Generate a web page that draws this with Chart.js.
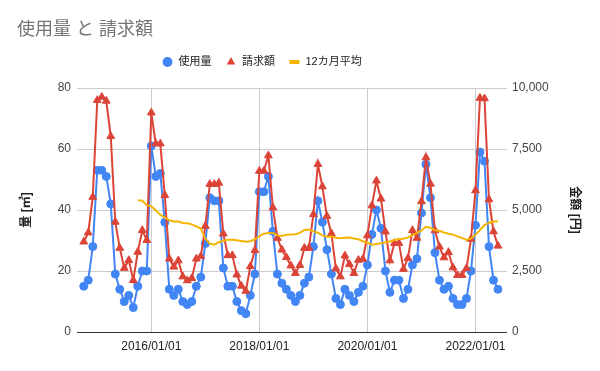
<!DOCTYPE html>
<html>
<head>
<meta charset="utf-8">
<script src="https://cdn.jsdelivr.net/npm/chart.js@4.4.0/dist/chart.umd.min.js"></script>
<style>
  html, body { margin: 0; padding: 0; background: #fff; }
</style>
</head>
<body>
<canvas id="chart" width="600" height="371"></canvas>
<script>
// monthly data, index 0 = 2014/10
const usage = [15, 17, 28, 53, 53, 51, 42, 19, 14, 10, 12, 8, 15, 20, 20, 61, 51, 52, 36, 14,
  12, 14, 10, 9, 10, 15, 18, 29, 44, 43, 43, 21, 15, 15, 10, 7, 6, 12, 19, 46,
  46, 51, 33, 19, 16, 14, 12, 10, 12, 16, 18, 28, 43, 36, 27, 19, 11, 9, 14, 12,
  10, 13, 15, 22, 32, 40, 34, 20, 13, 17, 17, 11, 14, 22, 24, 39, 55, 44, 26, 17,
  14, 15, 11, 9, 9, 11, 20, 35, 59, 56, 28, 17, 14];

const billing = [3700, 4070, 5530, 9500, 9630, 9470, 8020, 4510, 3440, 2620, 2940, 2120, 3280, 4170, 3760, 8990, 7720, 7720, 5600, 3000,
  2670, 2930, 2270, 2110, 2200, 3000, 3100, 4340, 6060, 6060, 6110, 4030, 3140, 3140, 2350, 1890, 1680, 2690, 3350, 6600,
  6600, 7230, 5100, 3850, 3370, 3060, 2720, 2410, 2740, 3440, 3440, 4820, 6880, 5960, 4750, 4040, 2600, 2270, 3130, 2780,
  2410, 2950, 2990, 3950, 5180, 6200, 5460, 4110, 2930, 3640, 3640, 2580, 3020, 4170, 3850, 5350, 7150, 6070, 4160, 3490,
  3050, 3270, 2640, 2330, 2330, 2610, 3810, 5800, 9590, 9570, 5430, 4120, 3530];

// 12カ月平均, starts at index 12
const avgStart = 12;
const avg12 = [5400, 5380, 5200, 5150, 4990, 4810, 4690, 4580, 4530, 4530, 4470, 4460, 4410, 4330, 4240, 3830, 3620, 3580, 3680, 3740,
  3780, 3780, 3760, 3730, 3700, 3720, 3800, 3930, 4030, 4060, 4060, 3960, 3940, 3990, 4000, 4010, 4060, 4180, 4200, 4120,
  4070, 3960, 3900, 3910, 3860, 3840, 3860, 3870, 3830, 3800, 3720, 3660, 3580, 3610, 3640, 3680, 3710, 3770, 3810, 3820,
  3880, 3970, 4060, 4160, 4310, 4270, 4170, 4150, 4080, 4030, 3990, 3920, 3860, 3770, 3830, 3980, 4180, 4380, 4470, 4530,
  4540];

const tickMonths = [15, 39, 63, 87];
const tickLabels = ['2016/01/01', '2018/01/01', '2020/01/01', '2022/01/01'];

const FONT = "'Liberation Sans', Arial, 'Noto Sans CJK JP', sans-serif";
Chart.defaults.font.family = FONT;

// legend spacing / placement like the original
const legendTweak = {
  id: 'legendTweak',
  beforeLayout(chart) {
    const lg = chart.legend;
    if (lg && !lg._patched) {
      const fit = lg.fit;
      lg.fit = function () {
        fit.call(this);
        this.height += 10.5;
      };
      lg._patched = true;
    }
  },
  afterLayout(chart) {
    chart.legend.left = 148;
  }
};

const chart = new Chart(document.getElementById('chart'), {
  type: 'line',
  data: {
    datasets: [{
      label: '使用量',
      data: usage.map((v, i) => ({ x: i, y: v })),
      borderColor: '#4285f4',
      backgroundColor: '#4285f4',
      borderWidth: 2,
      pointStyle: 'circle',
      pointRadius: 4,
      pointBorderWidth: 1,
      yAxisID: 'y',
      order: 3
    }, {
      label: '請求額',
      data: billing.map((v, i) => ({ x: i, y: v })),
      borderColor: '#db4437',
      backgroundColor: '#db4437',
      borderWidth: 2,
      pointStyle: 'triangle',
      pointRadius: 4.5,
      pointBorderWidth: 1,
      yAxisID: 'y1',
      order: 2
    }, {
      label: '12カ月平均',
      data: avg12.map((v, i) => ({ x: i + avgStart, y: v })),
      borderColor: '#f4b400',
      backgroundColor: '#f4b400',
      borderWidth: 2,
      pointStyle: 'line',
      pointRadius: 0,
      yAxisID: 'y1',
      order: 1
    }]
  },
  options: {
    responsive: false,
    animation: false,
    layout: { padding: { left: 17, right: 16, top: 0, bottom: 0 } },
    plugins: {
      title: {
        display: true,
        text: '使用量 と 請求額',
        align: 'start',
        color: '#757575',
        font: { size: 18, weight: 'normal' },
        padding: { top: 19.7, bottom: 1.2 }
      },
      legend: {
        align: 'start',
        labels: {
          usePointStyle: true,
          boxWidth: 14,
          boxHeight: 7,
          padding: 14,
          color: '#222',
          font: { size: 11 },
          generateLabels(chart) {
            const items = Chart.defaults.plugins.legend.labels.generateLabels(chart);
            items.sort((a, b) => a.datasetIndex - b.datasetIndex);
            items.forEach(it => { it.lineWidth = it.pointStyle === 'line' ? 4 : 0; });
            return items;
          }
        }
      },
      tooltip: { enabled: false }
    },
    scales: {
      x: {
        type: 'linear',
        min: -1.5,
        max: 94,
        afterBuildTicks: s => { s.ticks = tickMonths.map(v => ({ value: v })); },
        afterFit: s => { s.height = 39; },
        ticks: {
          callback: (v, i) => tickLabels[i],
          color: '#222',
          font: { size: 12 },
          padding: 7,
          maxRotation: 0,
          autoSkip: false
        },
        grid: { color: '#cccccc', drawTicks: false },
        border: { display: false }
      },
      y: {
        position: 'left',
        min: 0,
        max: 80,
        afterFit: s => { s.width = 60; },
        ticks: { stepSize: 20, color: '#444', font: { size: 12 }, padding: 6 },
        grid: { color: c => c.tick.value === 0 ? '#333333' : '#cccccc', drawTicks: false },
        border: { display: false },
        title: {
          display: true,
          text: '量 [㎥]',
          color: '#222',
          font: { size: 12, weight: 'bold' },
          padding: { top: 2, bottom: 0 }
        }
      },
      y1: {
        position: 'right',
        min: 0,
        max: 10000,
        afterFit: s => { s.width = 77; },
        ticks: {
          stepSize: 2500,
          color: '#444',
          font: { size: 12 },
          padding: 5,
          callback: v => v.toLocaleString('en-US')
        },
        grid: { drawOnChartArea: false, drawTicks: false },
        border: { display: false },
        title: {
          display: true,
          text: '金額 [円]',
          color: '#222',
          font: { size: 12, weight: 'bold' },
          padding: { top: 2, bottom: 0 }
        }
      }
    }
  },
  plugins: [legendTweak]
});
</script>
</body>
</html>
